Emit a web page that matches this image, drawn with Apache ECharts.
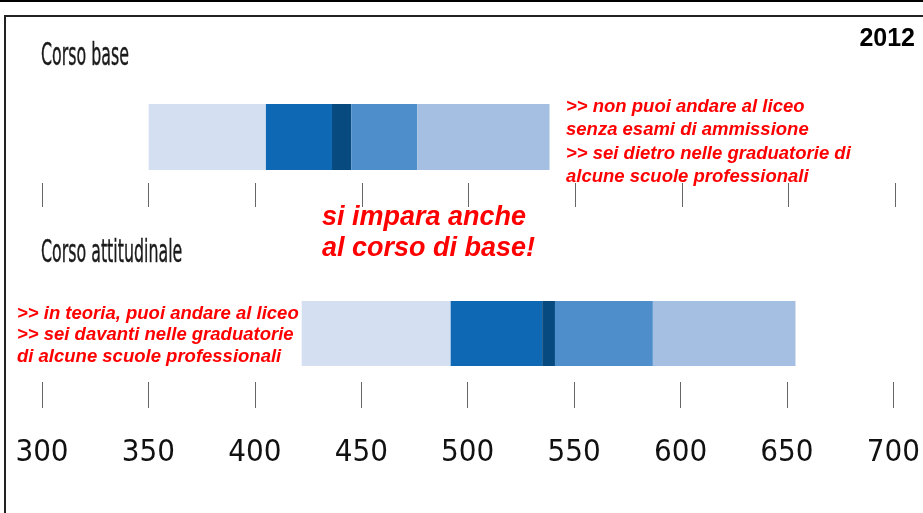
<!DOCTYPE html>
<html>
<head>
    <meta charset="utf-8"/>
    <title>Corso base / Corso attitudinale 2012</title>
    <script src="https://cdn.jsdelivr.net/npm/echarts@6/dist/echarts.min.js"></script>
    <style>
        html, body { margin: 0; padding: 0; background: #fff; }
        #chart { width: 923px; height: 513px; }
    </style>
</head>
<body>
<div id="chart"></div>
<script>
    // dati (punteggi)
    var categories = ['Corso base', 'Corso attitudinale'];
    var startVals = [350, 422];
    var p25 = [405, 492];
    var meanLow = [436, 535];
    var meanHigh = [445, 541];
    var p75 = [476, 587];
    var endVals = [538, 654];
    var tickValues = [300, 350, 400, 450, 500, 550, 600, 650, 700];

    var bandColors = ['#d4dff1', '#0e68b4', '#074a80', '#4e8fcb', '#a5bfe3'];
    var red = '#ff0000';
    var narrow = '"DejaVu Sans Condensed", "Liberation Sans Narrow", sans-serif';

    var chart = echarts.init(document.getElementById('chart'));

    var grids = [
        {left: 42, right: 28, top: 104, height: 66},
        {left: 42, right: 28, top: 301, height: 65}
    ];
    var xAxes = [], yAxes = [], series = [];
    var offsets = [13, 16];
    var tickLen = [24, 26];

    for (var g = 0; g < 2; g++) {
        xAxes.push({
            gridIndex: g,
            type: 'value',
            min: tickValues[0],
            max: tickValues[tickValues.length - 1],
            interval: 50,
            offset: offsets[g],
            axisLine: {show: false},
            axisTick: {show: true, length: tickLen[g], lineStyle: {color: '#666', width: 1}},
            splitLine: {show: false},
            axisLabel: {
                show: g === 1,
                margin: 55,
                fontFamily: narrow,
                fontSize: 31,
                color: '#111'
            }
        });
        yAxes.push({
            gridIndex: g,
            type: 'category',
            data: [categories[g]],
            show: false
        });
        var bounds = [startVals[g], p25[g], meanLow[g], meanHigh[g], p75[g], endVals[g]];
        series.push({
            type: 'bar', stack: 's' + g, xAxisIndex: g, yAxisIndex: g,
            barWidth: 66, silent: true,
            itemStyle: {color: 'rgba(0,0,0,0)'},
            data: [bounds[0]]
        });
        for (var k = 0; k < 5; k++) {
            series.push({
                type: 'bar', stack: 's' + g, xAxisIndex: g, yAxisIndex: g,
                barWidth: 66,
                itemStyle: {color: bandColors[k]},
                data: [bounds[k + 1] - bounds[k]]
            });
        }
    }

    var redText = function (x, y, text, size, lh) {
        return {
            type: 'text', left: x, top: y,
            style: {
                text: text, fill: red,
                font: 'italic bold ' + size + 'px "Liberation Sans", Arial, sans-serif',
                lineHeight: lh
            }
        };
    };

    // titoli delle righe, stretti in orizzontale come nell'originale
    var rowTitle = function (x, y, text) {
        return {
            type: 'text', x: x, y: y, scaleX: 0.55,
            style: {text: text, fill: '#1a1a1a', font: '32px ' + narrow, verticalAlign: 'top',
                stroke: '#1a1a1a', lineWidth: 0.4}
        };
    };

    var option = {
        backgroundColor: '#fff',
        animation: false,
        grid: grids,
        xAxis: xAxes,
        yAxis: yAxes,
        series: series,
        graphic: [
            {type: 'rect', shape: {x: 0, y: 0, width: 923, height: 2}, style: {fill: '#000'}},
            {type: 'polyline', shape: {points: [[5, 513], [5, 16], [923, 16]]},
                style: {stroke: '#222', lineWidth: 2, fill: null}},
            rowTitle(41, 41, categories[0]),
            rowTitle(41, 238, categories[1]),
            {type: 'text', right: 8, top: 27,
                style: {text: '2012', fill: '#000', font: 'bold 25px "Liberation Sans", Arial, sans-serif'}},
            redText(566, 95, '>> non puoi andare al liceo\nsenza esami di ammissione\n>> sei dietro nelle graduatorie di\nalcune scuole professionali', 18.5, 23.5),
            redText(17, 303, '>> in teoria, puoi andare al liceo\n>> sei davanti nelle graduatorie\ndi alcune scuole professionali', 18.5, 21.5),
            {type: 'text', left: 322, top: 202,
                style: {
                    text: 'si impara anche\nal corso di base!', fill: red, align: 'center',
                    font: 'italic bold 27px "Liberation Sans", Arial, sans-serif', lineHeight: 31
                }}
        ]
    };
    chart.setOption(option);
</script>
</body>
</html>
